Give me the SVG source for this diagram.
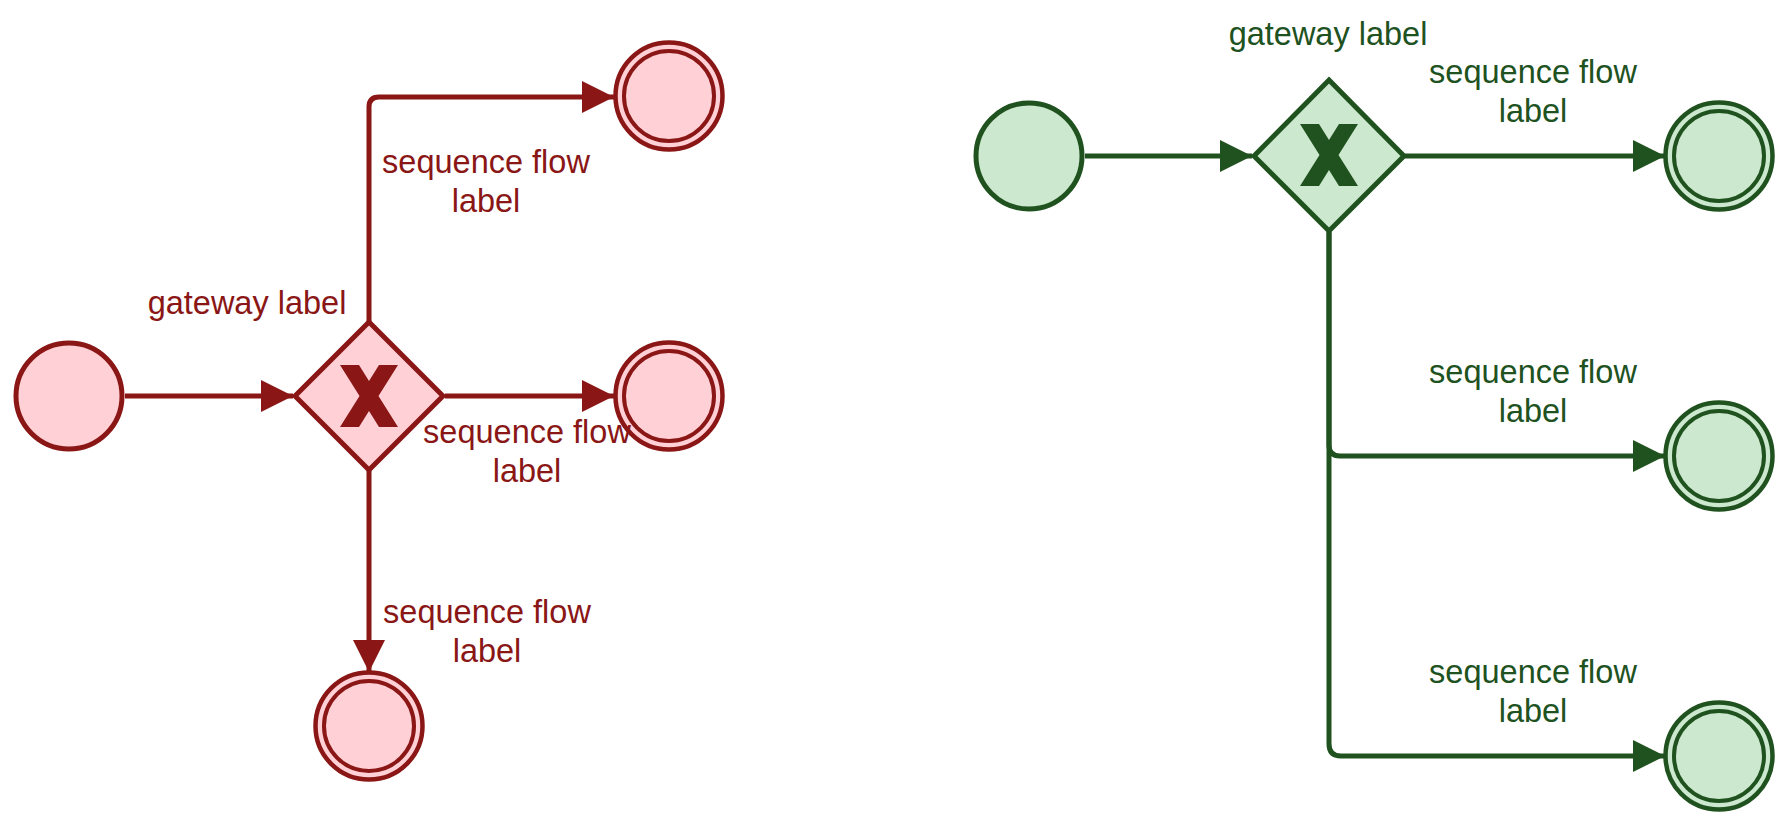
<svg xmlns="http://www.w3.org/2000/svg" width="1788" height="825" viewBox="0 0 1788 825">
<style>
.r{stroke:#8a1616;fill:#ffd1d6}
.g{stroke:#20521f;fill:#cce8ce}
.st{stroke-width:5}
.eo{stroke-width:4.5}
.ei{stroke-width:4}
.fr{fill:none;stroke:#8a1616;stroke-width:5}
.fg{fill:none;stroke:#20521f;stroke-width:5}
.tr{fill:#8a1616;font-family:"Liberation Sans",Arial,sans-serif;font-size:32.5px;text-anchor:middle}
.tg{fill:#20521f;font-family:"Liberation Sans",Arial,sans-serif;font-size:32.5px;text-anchor:middle}
.xr{fill:#8a1616}
.xg{fill:#20521f}
</style>
<defs>
<marker id="ar" markerUnits="userSpaceOnUse" viewBox="0 0 32 32" refX="32" refY="16" markerWidth="32" markerHeight="32" orient="auto"><path d="M0,0 L32,16 L0,32 Z" fill="#8a1616"/></marker>
<marker id="ag" markerUnits="userSpaceOnUse" viewBox="0 0 32 32" refX="32" refY="16" markerWidth="32" markerHeight="32" orient="auto"><path d="M0,0 L32,16 L0,32 Z" fill="#20521f"/></marker>
</defs>
<g id="connectors">
<path class="fr" d="M125,396 L293,396" marker-end="url(#ar)"/>
<path class="fr" d="M369,322 L369,107 Q369,97 379,97 L614,97" marker-end="url(#ar)"/>
<path class="fr" d="M445,396 L614,396" marker-end="url(#ar)"/>
<path class="fr" d="M369,470 L369,672" marker-end="url(#ar)"/>
<path class="fg" d="M1085,156 L1252,156" marker-end="url(#ag)"/>
<path class="fg" d="M1405,156 L1665,156" marker-end="url(#ag)"/>
<path class="fg" d="M1329,232 L1329,445 Q1329,456 1340,456 L1665,456" marker-end="url(#ag)"/>
<path class="fg" d="M1329,232 L1329,744 Q1329,756 1341,756 L1665,756" marker-end="url(#ag)"/>
</g>
<g id="start-red"><circle class="r st" cx="69" cy="396" r="53"/></g>
<g id="gateway-red">
<polygon class="r st" points="369,322 443,396 369,470 295,396"/>
<polygon class="xr" points="340,365 359,365 369,381 379,365 398,365 378.5,396 398,427 379,427 369,411 359,427 340,427 359.5,396"/>
<text class="tr" x="247" y="314">gateway label</text>
</g>
<g id="end-red-top"><circle class="r eo" cx="669" cy="96" r="53.5"/><circle class="r ei" cx="669" cy="96" r="45"/></g>
<g id="end-red-mid"><circle class="r eo" cx="669" cy="396" r="53.5"/><circle class="r ei" cx="669" cy="396" r="45"/></g>
<g id="end-red-bot"><circle class="r eo" cx="369" cy="726" r="53.5"/><circle class="r ei" cx="369" cy="726" r="45"/></g>
<g id="labels-red">
<text class="tr" x="486" y="173">sequence flow</text><text class="tr" x="486" y="212">label</text>
<text class="tr" x="527" y="443">sequence flow</text><text class="tr" x="527" y="482">label</text>
<text class="tr" x="487" y="623">sequence flow</text><text class="tr" x="487" y="662">label</text>
</g>
<g id="start-green"><circle class="g st" cx="1029" cy="156" r="53"/></g>
<g id="gateway-green">
<polygon class="g st" points="1329,80 1404,156 1329,231 1254,156"/>
<polygon class="xg" points="1300,124 1319,124 1329,140 1339,124 1358,124 1338.5,155 1358,186 1339,186 1329,170 1319,186 1300,186 1319.5,155"/>
<text class="tg" x="1328" y="45">gateway label</text>
</g>
<g id="end-green-top"><circle class="g eo" cx="1719" cy="156" r="53.5"/><circle class="g ei" cx="1719" cy="156" r="45"/></g>
<g id="end-green-mid"><circle class="g eo" cx="1719" cy="456" r="53.5"/><circle class="g ei" cx="1719" cy="456" r="45"/></g>
<g id="end-green-bot"><circle class="g eo" cx="1719" cy="756" r="53.5"/><circle class="g ei" cx="1719" cy="756" r="45"/></g>
<g id="labels-green">
<text class="tg" x="1533" y="83">sequence flow</text><text class="tg" x="1533" y="122">label</text>
<text class="tg" x="1533" y="383">sequence flow</text><text class="tg" x="1533" y="422">label</text>
<text class="tg" x="1533" y="683">sequence flow</text><text class="tg" x="1533" y="722">label</text>
</g>
</svg>
